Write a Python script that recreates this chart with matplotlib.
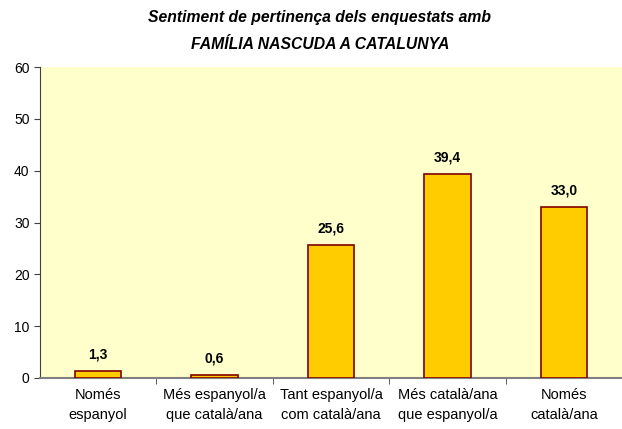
import matplotlib.pyplot as plt
import numpy as np

plt.rcParams['font.family'] = ['Liberation Sans', 'DejaVu Sans']

categories = ['Només\nespanyol', 'Més espanyol/a\nque català/ana', 'Tant espanyol/a\ncom català/ana',
              'Més català/ana\nque espanyol/a', 'Només\ncatalà/ana']
values = [1.3, 0.6, 25.6, 39.4, 33.0]

fig = plt.figure(figsize=(6.22, 4.29), dpi=100)
ax = fig.add_axes([0.0643, 0.1189, 0.9357, 0.7249])
ax.set_facecolor('#FFFFCC')

x = np.arange(len(categories))
bars = ax.bar(x, values, width=0.4, color='#FFCC00', edgecolor='#800000', linewidth=1.2, zorder=3)

for xi, v in zip(x, values):
    ax.text(xi, v + 1.8, f'{v:.1f}'.replace('.', ','), ha='center', va='bottom',
            fontsize=10, fontweight='bold')

ax.set_xlim(-0.5, len(categories) - 0.5)
ax.set_ylim(0, 60)
ax.set_yticks(range(0, 61, 10))
ax.set_xticks(x)
ax.set_xticklabels(categories, fontsize=10.5, linespacing=1.55)
ax.set_xticks(np.arange(0.5, len(categories) - 0.5, 1), minor=True)
ax.tick_params(axis='x', which='major', length=0, pad=7)
ax.tick_params(axis='x', which='minor', length=4, color='#404040', direction='out')
ax.tick_params(axis='y', length=4, color='#404040', labelsize=10)

for s in ['top', 'right']:
    ax.spines[s].set_visible(False)
ax.spines['left'].set_color('#404040')
ax.spines['bottom'].set_color('#808080')
ax.spines['bottom'].set_linewidth(1.5)

fig.text(0.514, 0.96, 'Sentiment de pertinença dels enquestats amb', ha='center', va='center',
         fontsize=11.3, fontweight='bold', style='italic')
fig.text(0.514, 0.897, 'FAMÍLIA NASCUDA A CATALUNYA', ha='center', va='center',
         fontsize=11.3, fontweight='bold', style='italic')

fig.savefig('out.png', dpi=100)
